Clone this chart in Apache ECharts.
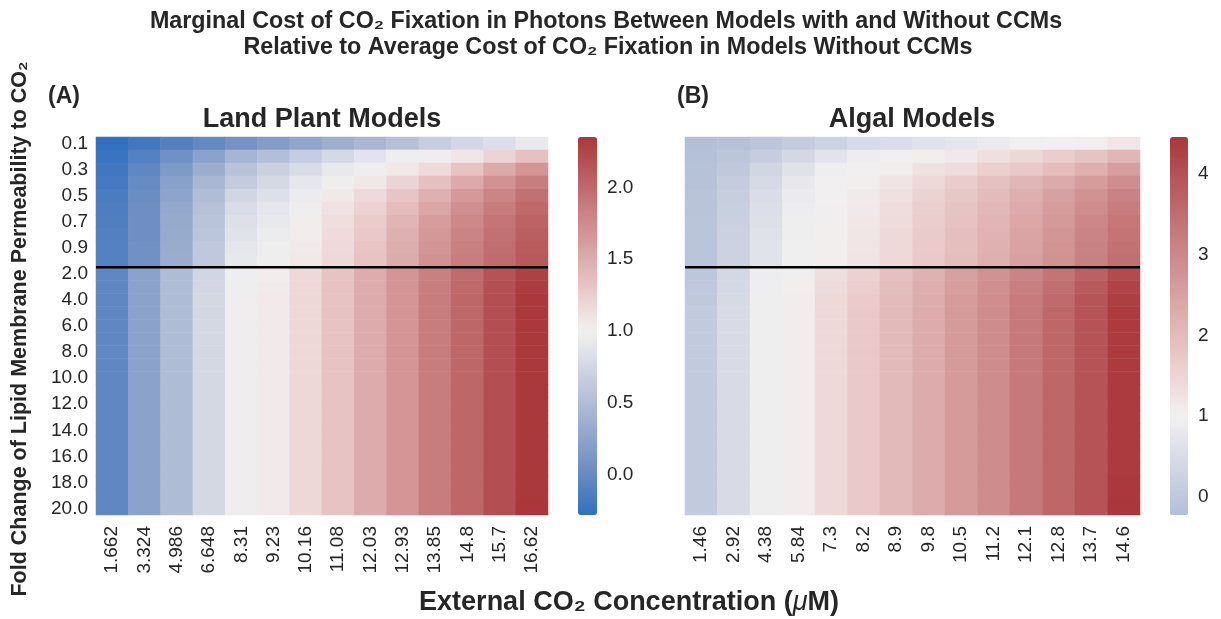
<!DOCTYPE html>
<html>
<head>
<meta charset="utf-8">
<script src="https://cdn.jsdelivr.net/npm/echarts@6/dist/echarts.min.js"></script>
<style>html,body{margin:0;padding:0;background:#fff}#c{width:1221px;height:619px}</style>
</head>
<body>
<div id="c"></div>
<script>
// ---------------- DATA ----------------
const landConc = ['1.662','3.324','4.986','6.648','8.31','9.23','10.16','11.08','12.03','12.93','13.85','14.8','15.7','16.62'];
const algalConc = ['1.46','2.92','4.38','5.84','7.3','8.2','8.9','9.8','10.5','11.2','12.1','12.8','13.7','14.6'];
const permLabels = ['0.1','0.2','0.3','0.4','0.5','0.6','0.7','0.8','0.9','1.0',
  '2.0','3.0','4.0','5.0','6.0','7.0','8.0','9.0','10.0','11.0','12.0','13.0','14.0','15.0','16.0','17.0','18.0','19.0','20.0'];
const separatorAfter = '1.0';
const landTicks = [0, 0.5, 1, 1.5, 2];
const algalTicks = [0, 1, 2, 3, 4];

// rows follow permLabels (top to bottom), columns follow landConc
const landValues = [
  [-0.28,-0.20,-0.11,-0.02,0.09,0.18,0.27,0.36,0.44,0.54,0.66,0.75,0.83,0.93],
  [-0.24,-0.10,0.06,0.24,0.42,0.52,0.66,0.77,0.88,0.97,1.02,1.08,1.20,1.34],
  [-0.20,-0.04,0.15,0.35,0.56,0.69,0.80,0.92,1.00,1.06,1.16,1.33,1.52,1.68],
  [-0.17,0.01,0.22,0.44,0.64,0.77,0.90,1.00,1.07,1.20,1.35,1.52,1.70,1.86],
  [-0.15,0.03,0.26,0.50,0.74,0.84,0.95,1.06,1.16,1.31,1.47,1.64,1.80,1.95],
  [-0.13,0.04,0.29,0.54,0.80,0.89,0.99,1.10,1.22,1.38,1.55,1.72,1.87,2.01],
  [-0.12,0.05,0.31,0.57,0.84,0.92,1.01,1.13,1.26,1.43,1.61,1.77,1.92,2.05],
  [-0.11,0.05,0.32,0.59,0.87,0.95,1.03,1.15,1.29,1.47,1.65,1.81,1.95,2.08],
  [-0.10,0.06,0.33,0.61,0.89,0.97,1.05,1.16,1.31,1.49,1.68,1.84,1.97,2.10],
  [-0.10,0.06,0.34,0.62,0.91,0.98,1.06,1.17,1.33,1.51,1.70,1.86,1.99,2.12],
  [-0.04,0.24,0.49,0.74,0.96,1.03,1.17,1.32,1.50,1.68,1.84,1.99,2.16,2.28],
  [-0.04,0.24,0.49,0.75,0.98,1.04,1.18,1.33,1.51,1.68,1.86,2.01,2.18,2.32],
  [-0.04,0.24,0.49,0.76,1.00,1.05,1.18,1.33,1.51,1.68,1.87,2.02,2.19,2.34],
  [-0.04,0.24,0.49,0.76,1.00,1.05,1.18,1.33,1.51,1.68,1.87,2.02,2.19,2.34],
  [-0.04,0.24,0.49,0.76,1.00,1.05,1.18,1.33,1.51,1.68,1.87,2.02,2.19,2.34],
  [-0.04,0.24,0.49,0.76,1.00,1.05,1.18,1.33,1.51,1.68,1.87,2.02,2.19,2.34],
  [-0.04,0.24,0.49,0.76,1.00,1.05,1.18,1.33,1.51,1.68,1.87,2.02,2.19,2.34],
  [-0.04,0.24,0.49,0.76,1.00,1.05,1.18,1.33,1.51,1.68,1.87,2.02,2.19,2.34],
  [-0.04,0.24,0.49,0.76,1.00,1.05,1.18,1.33,1.51,1.68,1.87,2.02,2.19,2.34],
  [-0.04,0.24,0.49,0.76,1.00,1.05,1.18,1.33,1.51,1.68,1.87,2.02,2.19,2.34],
  [-0.04,0.24,0.49,0.76,1.00,1.05,1.18,1.33,1.51,1.68,1.87,2.02,2.19,2.34],
  [-0.04,0.24,0.49,0.76,1.00,1.05,1.18,1.33,1.51,1.68,1.87,2.02,2.19,2.34],
  [-0.04,0.24,0.49,0.76,1.00,1.05,1.18,1.33,1.51,1.68,1.87,2.02,2.19,2.34],
  [-0.04,0.24,0.49,0.76,1.00,1.05,1.18,1.33,1.51,1.68,1.87,2.02,2.19,2.34],
  [-0.04,0.24,0.49,0.76,1.00,1.05,1.18,1.33,1.51,1.68,1.87,2.02,2.19,2.34],
  [-0.04,0.24,0.49,0.76,1.00,1.05,1.18,1.33,1.51,1.68,1.87,2.02,2.19,2.34],
  [-0.04,0.24,0.49,0.76,1.00,1.05,1.18,1.33,1.51,1.68,1.87,2.02,2.19,2.34],
  [-0.04,0.24,0.49,0.76,1.00,1.05,1.18,1.33,1.51,1.68,1.87,2.02,2.19,2.34],
  [-0.04,0.24,0.49,0.76,1.00,1.05,1.18,1.33,1.51,1.68,1.87,2.02,2.19,2.35]
];

const algalValues = [
  [-0.23,-0.18,-0.05,0.08,0.27,0.43,0.51,0.63,0.72,0.84,0.94,1.00,1.05,1.19],
  [-0.19,-0.05,0.12,0.38,0.69,0.89,0.98,1.04,1.14,1.31,1.47,1.65,1.83,2.10],
  [-0.17,0.03,0.33,0.63,0.92,1.00,1.08,1.28,1.40,1.58,1.75,1.95,2.22,2.57],
  [-0.15,0.10,0.43,0.78,0.98,1.06,1.22,1.45,1.67,1.88,2.10,2.33,2.60,2.88],
  [-0.12,0.16,0.51,0.84,1.00,1.12,1.30,1.54,1.77,2.00,2.24,2.50,2.79,3.09],
  [-0.10,0.18,0.56,0.88,1.02,1.15,1.35,1.60,1.83,2.07,2.33,2.60,2.91,3.22],
  [-0.09,0.20,0.60,0.91,1.03,1.18,1.39,1.64,1.87,2.12,2.39,2.67,3.00,3.30],
  [-0.08,0.22,0.63,0.92,1.04,1.20,1.42,1.68,1.91,2.17,2.44,2.73,3.07,3.38],
  [-0.07,0.24,0.65,0.94,1.05,1.21,1.44,1.70,1.93,2.20,2.47,2.77,3.12,3.43],
  [-0.07,0.25,0.66,0.95,1.05,1.22,1.45,1.72,1.95,2.22,2.50,2.80,3.15,3.47],
  [-0.03,0.40,0.89,1.02,1.33,1.57,1.90,2.18,2.50,2.80,3.07,3.38,3.73,4.10],
  [0.00,0.42,0.90,1.05,1.40,1.65,1.96,2.25,2.56,2.86,3.18,3.50,3.86,4.24],
  [0.02,0.44,0.91,1.07,1.43,1.70,2.00,2.30,2.60,2.90,3.25,3.58,3.94,4.33],
  [0.06,0.48,0.91,1.10,1.45,1.72,2.02,2.32,2.62,2.92,3.28,3.62,3.98,4.40],
  [0.06,0.48,0.91,1.10,1.45,1.72,2.02,2.32,2.62,2.92,3.28,3.62,3.98,4.40],
  [0.06,0.48,0.91,1.10,1.45,1.72,2.02,2.32,2.62,2.92,3.28,3.62,3.98,4.40],
  [0.06,0.48,0.91,1.10,1.45,1.72,2.02,2.32,2.62,2.92,3.28,3.62,3.98,4.40],
  [0.06,0.48,0.91,1.10,1.45,1.72,2.02,2.32,2.62,2.92,3.28,3.62,3.98,4.40],
  [0.06,0.48,0.91,1.10,1.45,1.72,2.02,2.32,2.62,2.92,3.28,3.62,3.98,4.40],
  [0.06,0.48,0.91,1.10,1.45,1.72,2.02,2.32,2.62,2.92,3.28,3.62,3.98,4.40],
  [0.06,0.48,0.91,1.10,1.45,1.72,2.02,2.32,2.62,2.92,3.28,3.62,3.98,4.40],
  [0.06,0.48,0.91,1.10,1.45,1.72,2.02,2.32,2.62,2.92,3.28,3.62,3.98,4.40],
  [0.06,0.48,0.91,1.10,1.45,1.72,2.02,2.32,2.62,2.92,3.28,3.62,3.98,4.40],
  [0.06,0.48,0.91,1.10,1.45,1.72,2.02,2.32,2.62,2.92,3.28,3.62,3.98,4.40],
  [0.06,0.48,0.91,1.10,1.45,1.72,2.02,2.32,2.62,2.92,3.28,3.62,3.98,4.40],
  [0.06,0.48,0.91,1.10,1.45,1.72,2.02,2.32,2.62,2.92,3.28,3.62,3.98,4.40],
  [0.06,0.48,0.91,1.10,1.45,1.72,2.02,2.32,2.62,2.92,3.28,3.62,3.98,4.42],
  [0.06,0.48,0.91,1.10,1.45,1.72,2.02,2.32,2.62,2.92,3.28,3.62,3.98,4.44],
  [0.06,0.48,0.91,1.10,1.45,1.72,2.02,2.32,2.62,2.92,3.28,3.62,3.98,4.46]
];

// ---------------- STYLE ----------------
const FONT = '"Liberation Sans", Arial, Helvetica, sans-serif';
const INK = '#262626';
// diverging blue-white-red map (vlag-like), stops as [fraction, colour]
const cmapStops = [
  [0.000, '#2369bd'], [0.135, '#6a8cc3'], [0.270, '#a0b1cf'], [0.380, '#c8cfdf'],
  [0.500, '#f3f1f1'], [0.577, '#edd3d3'], [0.674, '#dfb0b0'], [0.866, '#c06c6e'], [1.000, '#a9373b']
];
function hex2rgb(h){return [1,3,5].map(i=>parseInt(h.substr(i,2),16));}
function cmap(f){
  f = Math.max(0, Math.min(1, f));
  for (let i = 1; i < cmapStops.length; i++) {
    if (f <= cmapStops[i][0]) {
      const [f0,c0] = cmapStops[i-1], [f1,c1] = cmapStops[i];
      const t = (f - f0) / (f1 - f0), a = hex2rgb(c0), b = hex2rgb(c1);
      return 'rgb(' + a.map((v,k)=>Math.round(v + (b[k]-v)*t)).join(',') + ')';
    }
  }
  return cmapStops[cmapStops.length-1][1];
}
// centred colour scale (centre = 1) like seaborn's "center" option
function colorsFor(vmin, vmax, center){
  const half = Math.max(vmax - center, center - vmin);
  const lo = center - half, span = 2 * half, out = [];
  const N = 40;
  for (let i = 0; i <= N; i++) {
    const v = vmin + (vmax - vmin) * i / N;
    out.push(cmap((v - lo) / span));
  }
  return out;
}
function flatMin(m){return Math.min(...m.map(r=>Math.min(...r)));}
function flatMax(m){return Math.max(...m.map(r=>Math.max(...r)));}
function toCells(m){const d=[];m.forEach((row,ri)=>row.forEach((v,ci)=>d.push([ci,ri,v])));return d;}

const landMin = flatMin(landValues), landMax = flatMax(landValues);
const algalMin = flatMin(algalValues), algalMax = flatMax(algalValues);
const sepRow = permLabels.indexOf(separatorAfter) + 1;

const G = [
  {left: 96, top: 137, width: 452, height: 378},
  {left: 685, top: 137, width: 455, height: 378},
  {left: 578, top: 137, width: 19, height: 378},
  {left: 1170, top: 137, width: 18, height: 378}
];

const tickLabelStyle = {color: INK, fontSize: 19, fontFamily: FONT};

const option = {
  backgroundColor: '#ffffff',
  animation: false,
  grid: G,
  xAxis: [
    {type:'category', gridIndex:0, data: landConc, axisLine:{show:false}, axisTick:{show:false},
     axisLabel: Object.assign({rotate:90, interval:0, margin:11}, tickLabelStyle), splitLine:{show:false}},
    {type:'category', gridIndex:1, data: algalConc, axisLine:{show:false}, axisTick:{show:false},
     axisLabel: Object.assign({rotate:90, interval:0, margin:11}, tickLabelStyle), splitLine:{show:false}},
    {type:'value', gridIndex:0, min:0, max:landConc.length, show:false},
    {type:'value', gridIndex:1, min:0, max:algalConc.length, show:false},
    {type:'value', gridIndex:2, show:false, min:0, max:1},
    {type:'value', gridIndex:3, show:false, min:0, max:1}
  ],
  yAxis: [
    {type:'category', gridIndex:0, data: permLabels, inverse:true, axisLine:{show:false}, axisTick:{show:false},
     axisLabel: Object.assign({interval:1, margin:8}, tickLabelStyle), splitLine:{show:false}},
    {type:'category', gridIndex:1, data: permLabels, inverse:true, axisLine:{show:false}, axisTick:{show:false},
     axisLabel:{show:false}, splitLine:{show:false}},
    {type:'value', gridIndex:0, min:0, max:permLabels.length, inverse:true, show:false},
    {type:'value', gridIndex:1, min:0, max:permLabels.length, inverse:true, show:false},
    {type:'value', gridIndex:2, position:'right', min:landMin, max:landMax,
     axisLine:{show:false}, splitLine:{show:false},
     axisTick:{show:true, length:6, customValues: landTicks, lineStyle:{color:INK, width:1.5}},
     axisLabel: Object.assign({customValues: landTicks, margin:10, formatter: v=>Number(v).toFixed(1)}, tickLabelStyle)},
    {type:'value', gridIndex:3, position:'right', min:algalMin, max:algalMax,
     axisLine:{show:false}, splitLine:{show:false},
     axisTick:{show:true, length:6, customValues: algalTicks, lineStyle:{color:INK, width:1.5}},
     axisLabel: Object.assign({customValues: algalTicks, margin:10, formatter: v=>String(Math.round(v))}, tickLabelStyle)}
  ],
  visualMap: [
    {type:'continuous', seriesIndex:0, min:landMin, max:landMax, calculable:false, realtime:false,
     left: G[2].left, top: G[2].top, itemWidth: G[2].width, itemHeight: G[2].height, padding:0,
     text:null, showLabel:false, inRange:{color: colorsFor(landMin, landMax, 1)}, hoverLink:false},
    {type:'continuous', seriesIndex:1, min:algalMin, max:algalMax, calculable:false, realtime:false,
     left: G[3].left, top: G[3].top, itemWidth: G[3].width, itemHeight: G[3].height, padding:0,
     text:null, showLabel:false, inRange:{color: colorsFor(algalMin, algalMax, 1)}, hoverLink:false}
  ],
  series: [
    {type:'heatmap', xAxisIndex:0, yAxisIndex:0, data: toCells(landValues), progressive:0,
     itemStyle:{borderWidth:0}, emphasis:{disabled:true}},
    {type:'heatmap', xAxisIndex:1, yAxisIndex:1, data: toCells(algalValues), progressive:0,
     itemStyle:{borderWidth:0}, emphasis:{disabled:true}},
    {type:'line', xAxisIndex:2, yAxisIndex:2, data:[[0,sepRow],[landConc.length,sepRow]], symbol:'none',
     lineStyle:{color:'#000', width:2.5}, silent:true, z:5},
    {type:'line', xAxisIndex:3, yAxisIndex:3, data:[[0,sepRow],[algalConc.length,sepRow]], symbol:'none',
     lineStyle:{color:'#000', width:2.5}, silent:true, z:5}
  ],
  graphic: [
    {type:'text', x:606, y:10, style:{text:'Marginal Cost of CO\u2082 Fixation in Photons Between Models with and Without CCMs',
      fill:INK, font:'bold 23.3px ' + FONT, textAlign:'center'}},
    {type:'text', x:608, y:36, style:{text:'Relative to Average Cost of CO\u2082 Fixation in Models Without CCMs',
      fill:INK, font:'bold 23.3px ' + FONT, textAlign:'center'}},
    {type:'text', x:48, y:85, style:{text:'(A)', fill:INK, font:'bold 23px ' + FONT}},
    {type:'text', x:677, y:85, style:{text:'(B)', fill:INK, font:'bold 23px ' + FONT}},
    {type:'text', x:322, y:106, style:{text:'Land Plant Models', fill:INK, font:'bold 27px ' + FONT, textAlign:'center'}},
    {type:'text', x:912, y:106, style:{text:'Algal Models', fill:INK, font:'bold 27px ' + FONT, textAlign:'center'}},
    {type:'text', x:629, y:589, style:{text:'External CO\u2082 Concentration ({i|\u03bc}M)', fill:INK,
      font:'bold 27px ' + FONT, textAlign:'center',
      rich:{i:{fontStyle:'italic', fontWeight:'normal', fontSize:27, fontFamily:FONT, fill:INK}}}},
    {type:'text', x:20, y:329, rotation:Math.PI/2, style:{text:'Fold Change of Lipid Membrane Permeability to CO\u2082',
      fill:INK, font:'bold 21.5px ' + FONT, textAlign:'center', textVerticalAlign:'middle'}}
  ]
};

const chart = echarts.init(document.getElementById('c'), null, {renderer:'canvas'});
chart.setOption(option);
</script>
</body>
</html>
